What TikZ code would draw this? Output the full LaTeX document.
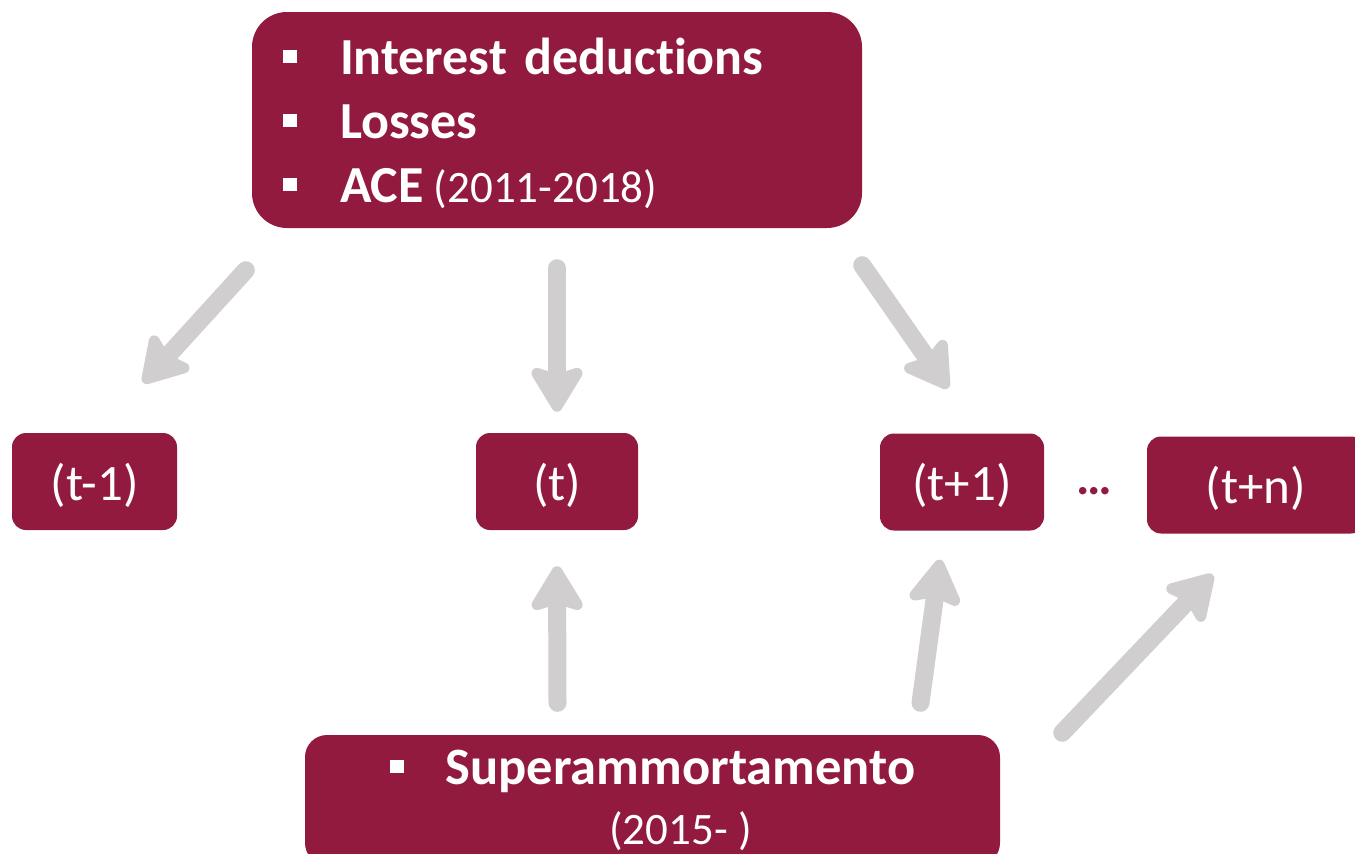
\documentclass[tikz,border=0pt]{standalone}
\usepackage{fontspec}
\setmainfont{Carlito}[RawFeature=-liga]
\usepackage{xcolor}
\usepackage{tikz}
\usetikzlibrary{arrows.meta}
\definecolor{boxred}{HTML}{921A3E}
\definecolor{arrowgray}{HTML}{D0CECE}
\newcommand{\sqbullet}{\raisebox{11pt}{\rule{14pt}{13pt}}}

\begin{document}
\begin{tikzpicture}[x=1pt, y=-1pt]
    % Define the style for the nodes
    \tikzstyle{block} = [rectangle, fill=boxred, text=white, rounded corners=14pt, inner sep=0pt]
    \tikzstyle{period} = [block, minimum height=97pt, text depth=0pt, font=\fontsize{51}{60}\selectfont]
    \tikzstyle{flow} = [draw=arrowgray, line width=18pt, line cap=round, -{Stealth[width=62pt, length=52pt, inset=9pt, round]}]

    \clip (0,0) rectangle (1355,854);

    % Place the nodes
    \node [block, minimum width=610pt, minimum height=216pt, rounded corners=35pt, text width=548pt, align=left, font=\fontsize{52}{64}\selectfont\bfseries] (deduct) at (557,120)
        {\rule{0pt}{43pt}\sqbullet\hspace{43pt}Interest deductions\\
         \sqbullet\hspace{43pt}Losses\\
         \sqbullet\hspace{43pt}ACE\hspace{10pt}{\fontsize{45}{64}\selectfont\mdseries(2011-2018)}};
    \node [period, minimum width=165pt] (tm1) at (94.5,481.5) {(t-1)};
    \node [period, minimum width=162pt] (t) at (557,481.5) {(t)};
    \node [period, minimum width=164pt] (tp1) at (962,482) {(t+1)};
    \node [font=\fontsize{50}{56}\selectfont\bfseries, text=boxred, inner sep=0pt] (dots) at (1094,491) {…};
    \node [period, minimum width=218pt] (tpn) at (1256,485) {(t+n)};
    \node [block, minimum width=695pt, minimum height=130pt, rounded corners=22pt, align=center, font=\fontsize{52.5}{60}\selectfont\bfseries] (super) at (652.5,800)
        {\sqbullet\hspace{42pt}Superammortamento\\
         \hphantom{\sqbullet\hspace{42pt}}{\fontsize{45}{60}\selectfont\mdseries (2015- )}};

    % Connect the nodes with paths
    \path [flow] ([xshift=-6pt, yshift=-42pt]deduct.south west) -- ([xshift=-34pt, yshift=50pt]tm1.north east);
    \path [flow] ([yshift=-40pt]deduct.south) -- ([yshift=21pt]t.north);
    \path [flow] ([yshift=-37pt]deduct.south east) -- ([xshift=-14pt, yshift=45pt]tp1.north);
    \path [flow] ([xshift=-95pt, yshift=32pt]super.north) -- ([yshift=-36pt]t.south);
    \path [flow] ([xshift=268pt, yshift=32pt]super.north) -- ([xshift=-22pt, yshift=-29pt]tp1.south);
    \path [flow] ([xshift=62pt, yshift=2pt]super.north east) -- ([xshift=66pt, yshift=-41pt]tpn.south west);
\end{tikzpicture}
\end{document}
